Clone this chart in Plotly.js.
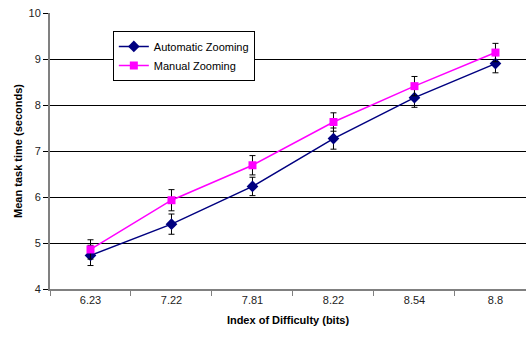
<!DOCTYPE html>
<html>
<head>
<meta charset="utf-8">
<script src="https://cdn.plot.ly/plotly-3.0.1.min.js"></script>
<style>html,body{margin:0;padding:0;background:#fff;}#chart{width:526px;height:338px;}</style>
</head>
<body>
<div id="chart"></div>
<script>
var categories = ["6.23", "7.22", "7.81", "8.22", "8.54", "8.8"];
var autoValues = [4.73, 5.41, 6.23, 7.27, 8.16, 8.90];
var autoErrors = [0.22, 0.22, 0.20, 0.23, 0.21, 0.20];
var manualValues = [4.86, 5.93, 6.69, 7.63, 8.41, 9.14];
var manualErrors = [0.21, 0.23, 0.21, 0.20, 0.21, 0.20];
var yTicks = [4, 5, 6, 7, 8, 9, 10];

var font = "Liberation Sans, Arial, sans-serif";

var traces = [
  {
    x: categories, y: autoValues, name: "Automatic Zooming", type: "scatter", mode: "lines+markers",
    line: {color: "#000080", width: 1.5},
    marker: {symbol: "diamond", size: 9, color: "#000080"},
    error_y: {type: "data", array: autoErrors, visible: true, color: "#000000", thickness: 1, width: 3}
  },
  {
    x: categories, y: manualValues, name: "Manual Zooming", type: "scatter", mode: "lines+markers",
    line: {color: "#FF00FF", width: 1.5},
    marker: {symbol: "square", size: 8, color: "#FF00FF"},
    error_y: {type: "data", array: manualErrors, visible: true, color: "#000000", thickness: 1, width: 3}
  }
];

var layout = {
  width: 526, height: 338,
  margin: {l: 50, r: 0, t: 13, b: 49},
  paper_bgcolor: "#fff", plot_bgcolor: "#fff",
  font: {family: font, size: 11, color: "#222"},
  showlegend: true,
  legend: {
    x: 0.132, y: 0.935, xanchor: "left", yanchor: "top",
    bgcolor: "#fff", bordercolor: "#000", borderwidth: 1,
    font: {family: font, size: 11, color: "#000"},
    itemwidth: 30,
    tracegroupgap: 0
  },
  xaxis: {
    type: "category", range: [-0.5, 5.377],
    showgrid: false, zeroline: false,
    showline: true, linecolor: "#808080", linewidth: 2,
    ticks: "outside", tickson: "boundaries", ticklen: 5, tickcolor: "#808080", tickwidth: 1,
    tickfont: {family: font, size: 11, color: "#222"},
    title: {text: "Index of Difficulty (bits)", font: {family: font, size: 11, color: "#000", weight: "bold"}, standoff: 11}
  },
  yaxis: {
    range: [4, 10], tickvals: yTicks,
    showgrid: true, gridcolor: "#000", gridwidth: 1, zeroline: false,
    showline: true, linecolor: "#808080", linewidth: 2,
    ticks: "outside", ticklen: 5, tickcolor: "#000", tickwidth: 1,
    tickfont: {family: font, size: 11, color: "#222"},
    title: {text: "Mean task time (seconds)", font: {family: font, size: 11, color: "#000", weight: "bold"}, standoff: 4}
  }
};

Plotly.newPlot("chart", traces, layout, {displayModeBar: false, staticPlot: true});
</script>
</body>
</html>
